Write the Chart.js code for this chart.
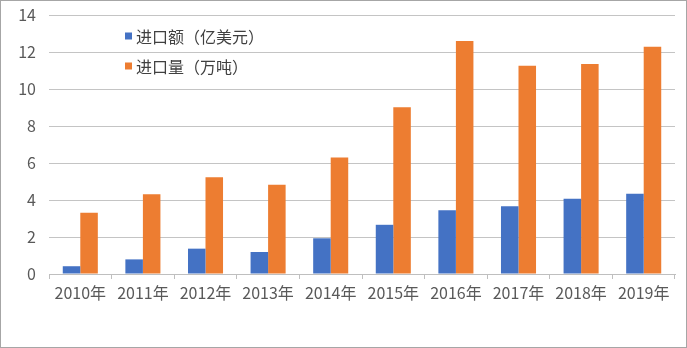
<!DOCTYPE html>
<html>
<head>
<meta charset="utf-8">
<script src="https://cdn.jsdelivr.net/npm/chart.js@4/dist/chart.umd.min.js"></script>
<style>
  html, body { margin: 0; padding: 0; background: #fff; }
  #wrap { width: 687px; height: 348px; box-sizing: border-box; border: 1px solid #a6a6a6; position: relative; }
  #wrap canvas { display: block; }
</style>
</head>
<body>
<div id="wrap"><canvas id="c" width="685" height="346"></canvas></div>
<script>
const categories = ['2010年', '2011年', '2012年', '2013年', '2014年', '2015年', '2016年', '2017年', '2018年', '2019年'];
const importValue = [0.42, 0.79, 1.37, 1.19, 1.93, 2.66, 3.44, 3.66, 4.07, 4.34];
const importVolume = [3.31, 4.31, 5.23, 4.83, 6.3, 9.01, 12.6, 11.26, 11.35, 12.29];
const seriesNames = ['进口额（亿美元）', '进口量（万吨）'];
const yTicks = [0, 2, 4, 6, 8, 10, 12, 14];

const FONT = '"Noto Sans CJK SC", "Noto Sans", sans-serif';
const TEXT = '#595959';

// legend drawn inside the plot area, top-left
const innerLegend = {
  id: 'innerLegend',
  afterDraw(chart) {
    const ctx = chart.ctx;
    ctx.save();
    ctx.font = '16px ' + FONT;
    ctx.textBaseline = 'middle';
    ctx.textAlign = 'left';
    chart.data.datasets.forEach((ds, i) => {
      const y = 35 + i * 30;
      ctx.fillStyle = ds.backgroundColor;
      ctx.fillRect(124, y - 3.5, 7, 7);
      ctx.fillStyle = '#404040';
      ctx.fillText(ds.label, 135, y + 1);
    });
    ctx.restore();
  }
};

new Chart(document.getElementById('c'), {
  type: 'bar',
  data: {
    labels: categories,
    datasets: [
      { label: seriesNames[0], data: importValue, backgroundColor: '#4472C4' },
      { label: seriesNames[1], data: importVolume, backgroundColor: '#ED7D31' }
    ]
  },
  options: {
    responsive: false,
    animation: false,
    layout: { padding: { left: 0, right: 11, top: 14, bottom: 0 } },
    datasets: { bar: { categoryPercentage: 0.56, barPercentage: 1.0 } },
    plugins: { legend: { display: false }, tooltip: { enabled: false } },
    scales: {
      x: {
        grid: { offset: true, drawOnChartArea: false, drawTicks: true, tickLength: 5, color: '#bfbfbf' },
        border: { display: true, color: '#bfbfbf', width: 1 },
        ticks: { color: TEXT, font: { family: FONT, size: 16 }, padding: 4, maxRotation: 0 },
        afterFit(s) { s.height = 73; }
      },
      y: {
        min: 0, max: 14,
        afterBuildTicks(s) { s.ticks = yTicks.map(v => ({ value: v })); },
        grid: { color: '#c4c4c4', drawTicks: false, lineWidth: 1 },
        border: { display: false },
        ticks: { color: TEXT, font: { family: FONT, size: 16 }, padding: 13 },
        afterFit(s) { s.width = 48; s.paddingTop = 0; s.paddingBottom = 0; }
      }
    }
  },
  plugins: [innerLegend]
});
</script>
</body>
</html>
